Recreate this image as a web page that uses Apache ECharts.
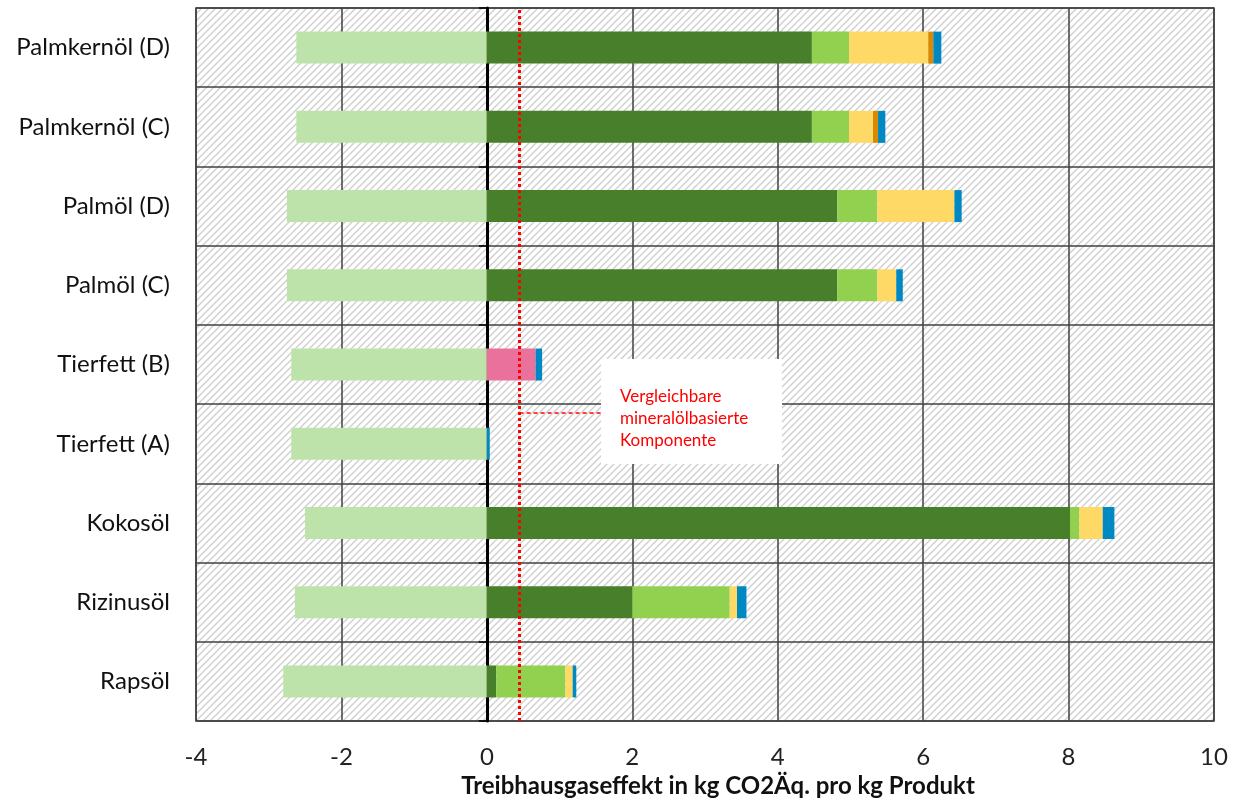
<!DOCTYPE html>
<html lang="de">
<head>
    <meta charset="UTF-8">
    <title>Treibhausgaseffekt</title>
    <style>
        html, body { margin: 0; padding: 0; background: #fff; }
        #main { width: 1243px; height: 803px; }
    </style>
</head>
<body>
<div id="main"></div>
<script src="https://cdn.jsdelivr.net/npm/echarts@6/dist/echarts.min.js"></script>
<script>
    // Kategorien von unten nach oben
    var categories = ['Rapsöl', 'Rizinusöl', 'Kokosöl', 'Tierfett (A)', 'Tierfett (B)',
        'Palmöl (C)', 'Palmöl (D)', 'Palmkernöl (C)', 'Palmkernöl (D)'];
    var gutschrift  = [-2.80, -2.64, -2.50, -2.69, -2.69, -2.75, -2.75, -2.62, -2.62];
    var anbau       = [0.13, 2.00, 8.02, null, null, 4.82, 4.82, 4.47, 4.47];
    var tierfett    = [null, null, null, null, 0.67, null, null, null, null];
    var duenger     = [0.95, 1.34, 0.13, null, null, 0.55, 0.55, 0.51, 0.51];
    var verarbeitung = [0.10, 0.10, 0.32, null, null, 0.26, 1.06, 0.33, 1.09];
    var sonstiges   = [null, null, null, null, null, null, null, 0.07, 0.07];
    var transport   = [0.05, 0.13, 0.16, 0.04, 0.09, 0.09, 0.10, 0.10, 0.11];
    var xTicks = { min: -4, max: 10, interval: 2 };
    var vergleichswert = 0.45;

    var font = 'Lato, "Open Sans", sans-serif';
    var gridLeft = 196, gridRight = 29, chartWidth = 1243;
    var plotWidth = chartWidth - gridLeft - gridRight;
    // Abstand der Nulllinie vom linken Rand
    var zeroOffset = (0 - xTicks.min) / (xTicks.max - xTicks.min) * plotWidth;

    // Schraffur fuer den Hintergrund
    function hatch() {
        var s = 7;
        var c = document.createElement('canvas');
        c.width = s; c.height = s;
        var ctx = c.getContext('2d');
        ctx.fillStyle = '#ffffff';
        ctx.fillRect(0, 0, s, s);
        ctx.strokeStyle = '#cfcfcf';
        ctx.lineWidth = 1.4;
        ctx.beginPath();
        ctx.moveTo(0, s); ctx.lineTo(s, 0);
        ctx.moveTo(-2, 2); ctx.lineTo(2, -2);
        ctx.moveTo(s - 2, s + 2); ctx.lineTo(s + 2, s - 2);
        ctx.stroke();
        return c;
    }

    function bar(name, data, color) {
        return {
            name: name,
            type: 'bar',
            stack: 'gesamt',
            barWidth: 32,
            data: data,
            itemStyle: { color: color },
            silent: true
        };
    }

    var myChart = echarts.init(document.getElementById('main'));
    var series = [
        bar('Gutschrift', gutschrift, '#bee3aa'),
        bar('Anbau', anbau, '#487f2a'),
        bar('Tierfett', tierfett, '#e9719c'),
        bar('Dünger', duenger, '#92d050'),
        bar('Verarbeitung', verarbeitung, '#ffd966'),
        bar('Sonstiges', sonstiges, '#d98a00'),
        bar('Transport', transport, '#0088c2')
    ];
    series[1].markLine = {
        silent: true,
        symbol: ['none', 'none'],
        label: { show: false },
        lineStyle: { color: '#ff0000', type: [3, 3], width: 3 },
        data: [{ xAxis: vergleichswert }]
    };

    var option = {
        animation: false,
        backgroundColor: '#fff',
        grid: {
            left: gridLeft, right: gridRight, top: 8, bottom: 81,
            show: true,
            backgroundColor: { image: hatch(), repeat: 'repeat' },
            borderColor: '#404040',
            borderWidth: 1.5
        },
        xAxis: {
            type: 'value',
            min: xTicks.min, max: xTicks.max, interval: xTicks.interval,
            axisLine: { show: false },
            axisTick: { show: false },
            axisLabel: { fontSize: 24, color: '#222', margin: 24, fontFamily: font },
            splitLine: { lineStyle: { color: '#404040', width: 1.5 } },
            name: 'Treibhausgaseffekt in kg CO2Äq. pro kg Produkt',
            nameLocation: 'middle',
            nameGap: 51,
            nameTextStyle: { fontSize: 24, fontWeight: 'bold', color: '#111', fontFamily: font, padding: [0, 0, 0, 26] }
        },
        yAxis: [{
            type: 'category',
            data: categories,
            axisLine: { show: false },
            axisTick: { show: false },
            axisLabel: { fontSize: 24, color: '#111', margin: 26, fontFamily: font },
            splitLine: { show: true, lineStyle: { color: '#404040', width: 1.5 } }
        }, {
            type: 'category',
            data: categories,
            position: 'left',
            offset: -zeroOffset,
            axisLine: { show: true, onZero: false, lineStyle: { color: '#000', width: 3 } },
            axisTick: { show: true, length: 8, lineStyle: { color: '#000', width: 1.5 } },
            axisLabel: { show: false },
            splitLine: { show: false }
        }],
        series: series
    };
    myChart.setOption(option);

    // Hinweisbox mit Verbindungslinie
    var lx = myChart.convertToPixel({ xAxisIndex: 0 }, vergleichswert);
    var boxX = 601, boxY = 359, boxW = 181, boxH = 105;
    myChart.setOption({
        graphic: [{
            type: 'line',
            z: 100,
            shape: { x1: lx, y1: 413, x2: boxX, y2: 413 },
            style: { stroke: '#ff0000', lineWidth: 1.5, lineDash: [4, 3] }
        }, {
            type: 'rect',
            z: 100,
            shape: { x: boxX, y: boxY, width: boxW, height: boxH },
            style: { fill: '#ffffff' }
        }, {
            type: 'text',
            z: 101,
            left: 620,
            top: 386,
            style: {
                text: 'Vergleichbare\nmineralölbasierte\nKomponente',
                fill: '#ff0000',
                font: '17px ' + font,
                lineHeight: 22
            }
        }]
    });
</script>
</body>
</html>
